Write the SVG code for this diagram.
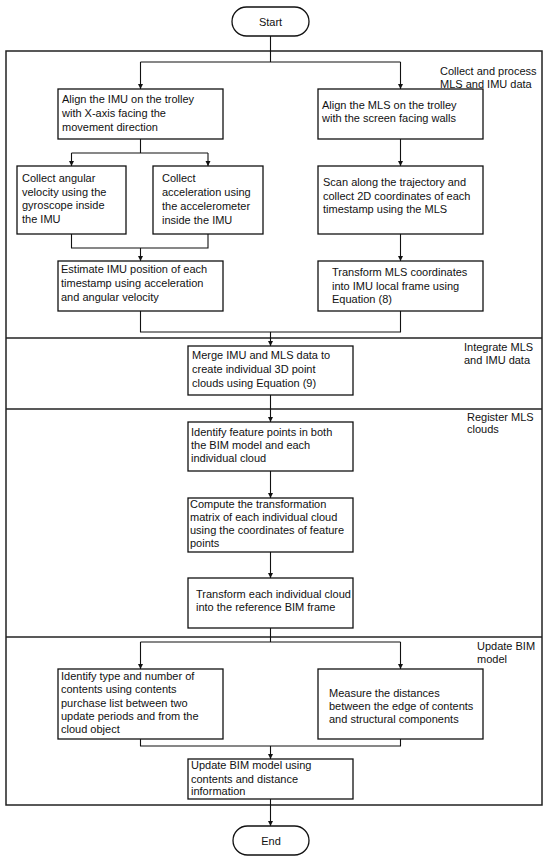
<svg xmlns="http://www.w3.org/2000/svg" width="550" height="860" viewBox="0 0 550 860">
<defs>
<marker id="ah" markerUnits="userSpaceOnUse" markerWidth="6" markerHeight="6" refX="5" refY="3" orient="auto">
<path d="M0,0.5 L5,3 L0,5.5 z" fill="#111"/>
</marker>
<style>
.box{fill:#fff;stroke:#111;stroke-width:1.3}
.term{fill:#fff;stroke:#111;stroke-width:1.3}
.frame{fill:none;stroke:#222;stroke-width:1.5}
.div{stroke:#222;stroke-width:1.3}
.c{fill:none;stroke:#111;stroke-width:1.1}
.a{marker-end:url(#ah)}
text{font-family:"Liberation Sans",Arial,sans-serif;font-size:11px;fill:#111}
.mid{text-anchor:middle}
</style>
</defs>
<rect width="550" height="860" fill="#fff"/>
<g id="frame">
<rect class="frame" x="6" y="51" width="536" height="754"/>
<line class="div" x1="6" y1="338" x2="542" y2="338"/>
<line class="div" x1="6" y1="409" x2="542" y2="409"/>
<line class="div" x1="6" y1="637" x2="542" y2="637"/>
<text x="440" y="75">Collect and process</text>
<text x="440" y="88">MLS and IMU data</text>
<text x="464" y="351">Integrate MLS</text>
<text x="464" y="364">and IMU data</text>
<text x="467" y="421">Register MLS</text>
<text x="467" y="433">clouds</text>
<text x="477" y="650">Update BIM</text>
<text x="477" y="663">model</text>
</g>
<g id="connectors">
<path class="c" d="M270.5,36 V62 M140.5,62 H400.5"/>
<path class="c a" d="M140.5,62 V89"/>
<path class="c a" d="M400.5,62 V89"/>
<path class="c" d="M140.5,139 V153 M71.5,153 H208"/>
<path class="c a" d="M71.5,153 V166"/>
<path class="c a" d="M208,153 V166"/>
<path class="c a" d="M400.5,139 V166"/>
<path class="c" d="M71.5,234 V248 H208 V234"/>
<path class="c a" d="M140.5,248 V261"/>
<path class="c a" d="M400.5,234 V261"/>
<path class="c" d="M140.5,311 V332 H400.5 V311"/>
<path class="c a" d="M270.5,332 V346"/>
<path class="c a" d="M270.5,395 V422"/>
<path class="c a" d="M270.5,471 V498"/>
<path class="c a" d="M270.5,552 V578"/>
<path class="c" d="M270.5,628 V642 M140.5,642 H400.5"/>
<path class="c a" d="M140.5,642 V669"/>
<path class="c a" d="M400.5,642 V669"/>
<path class="c" d="M140.5,739 V746 H400.5 V739"/>
<path class="c a" d="M270.5,746 V759"/>
<path class="c a" d="M270.5,799 V826"/>
</g>
<g id="start">
<rect class="term" x="232" y="7" width="77" height="29" rx="14.5"/>
<text class="mid" x="270.5" y="26">Start</text>
</g>
<g id="n1">
<rect class="box" x="58" y="89" width="165" height="50"/>
<text x="62" y="103">Align the IMU on the trolley</text>
<text x="62" y="117">with X-axis facing the</text>
<text x="62" y="131">movement direction</text>
</g>
<g id="n2">
<rect class="box" x="318" y="89" width="165" height="50"/>
<text x="322" y="109">Align the MLS on the trolley</text>
<text x="322" y="122">with the screen facing walls</text>
</g>
<g id="n3">
<rect class="box" x="17" y="166" width="109" height="68"/>
<text x="22" y="182">Collect angular</text>
<text x="22" y="196">velocity using the</text>
<text x="22" y="209">gyroscope inside</text>
<text x="22" y="223">the IMU</text>
</g>
<g id="n4">
<rect class="box" x="153" y="166" width="110" height="68"/>
<text x="162" y="182">Collect</text>
<text x="162" y="196">acceleration using</text>
<text x="162" y="210">the accelerometer</text>
<text x="162" y="224">inside the IMU</text>
</g>
<g id="n5">
<rect class="box" x="318" y="166" width="165" height="68"/>
<text x="323" y="186">Scan along the trajectory and</text>
<text x="323" y="200">collect 2D coordinates of each</text>
<text x="323" y="213">timestamp using the MLS</text>
</g>
<g id="n6">
<rect class="box" x="58" y="261" width="165" height="50"/>
<text x="61" y="273">Estimate IMU position of each</text>
<text x="61" y="287">timestamp using acceleration</text>
<text x="61" y="301">and angular velocity</text>
</g>
<g id="n7">
<rect class="box" x="318" y="261" width="165" height="50"/>
<text x="332" y="276">Transform MLS coordinates</text>
<text x="332" y="290">into IMU local frame using</text>
<text x="332" y="303">Equation (8)</text>
</g>
<g id="n8">
<rect class="box" x="188" y="346" width="165" height="49"/>
<text x="192" y="359">Merge IMU and MLS data to</text>
<text x="192" y="373">create individual 3D point</text>
<text x="192" y="387">clouds using Equation (9)</text>
</g>
<g id="n9">
<rect class="box" x="188" y="422" width="165" height="49"/>
<text x="191" y="436">Identify feature points in both</text>
<text x="191" y="449">the BIM model and each</text>
<text x="191" y="462">individual cloud</text>
</g>
<g id="n10">
<rect class="box" x="188" y="498" width="165" height="54"/>
<text x="190" y="508">Compute the transformation</text>
<text x="190" y="521">matrix of each individual cloud</text>
<text x="190" y="534">using the coordinates of feature</text>
<text x="190" y="547">points</text>
</g>
<g id="n11">
<rect class="box" x="188" y="578" width="165" height="50"/>
<text x="196" y="598">Transform each individual cloud</text>
<text x="196" y="611">into the reference BIM frame</text>
</g>
<g id="n12">
<rect class="box" x="58" y="669" width="165" height="70"/>
<text x="61" y="680">Identify type and number of</text>
<text x="61" y="693">contents using contents</text>
<text x="61" y="707">purchase list between two</text>
<text x="61" y="720">update periods and from the</text>
<text x="61" y="733">cloud object</text>
</g>
<g id="n13">
<rect class="box" x="318" y="669" width="165" height="70"/>
<text x="329" y="697">Measure the distances</text>
<text x="329" y="710">between the edge of contents</text>
<text x="329" y="723">and structural components</text>
</g>
<g id="n14">
<rect class="box" x="188" y="759" width="165" height="40"/>
<text x="191" y="769">Update BIM model using</text>
<text x="191" y="783">contents and distance</text>
<text x="191" y="795">information</text>
</g>
<g id="end">
<rect class="term" x="233" y="826" width="76" height="29" rx="14.5"/>
<text class="mid" x="271" y="845">End</text>
</g>
</svg>
